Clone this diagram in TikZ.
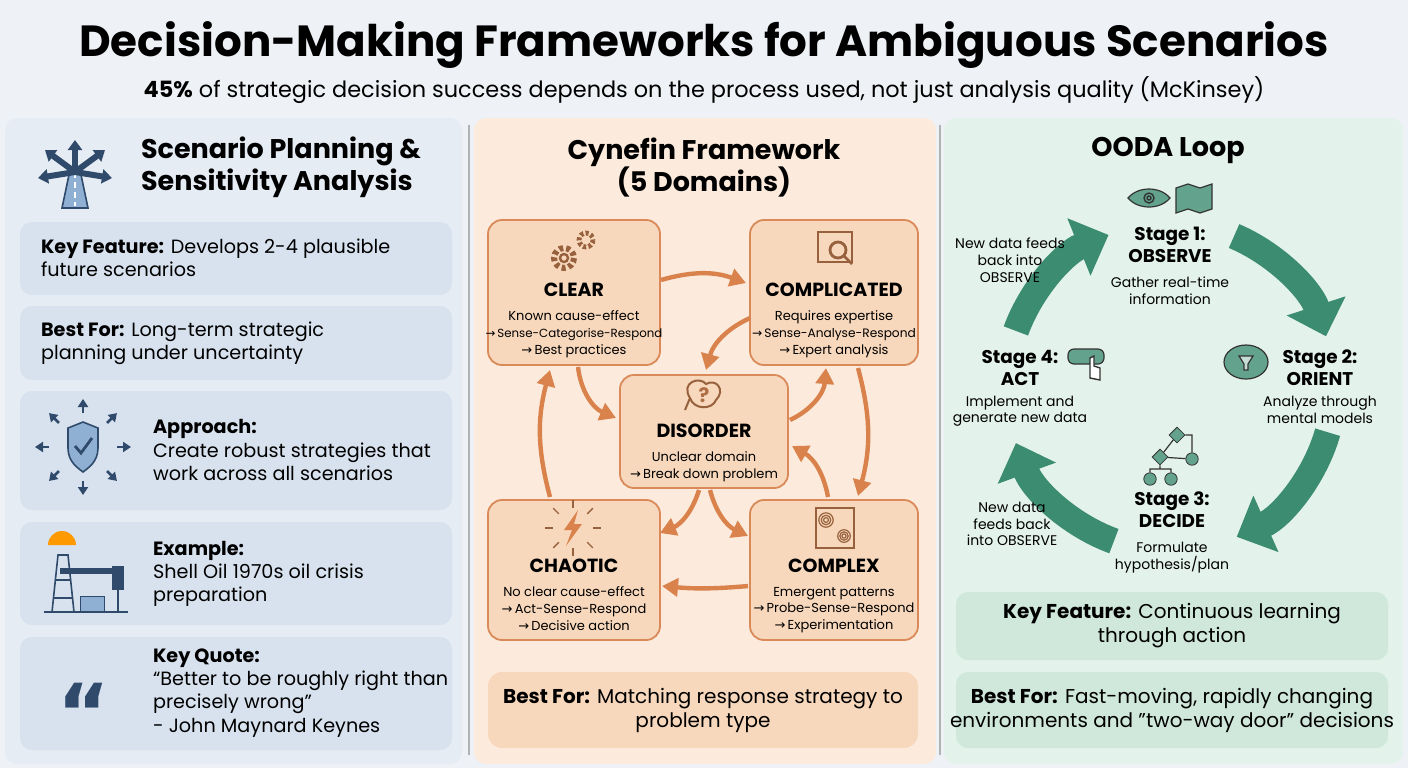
\documentclass[tikz,border=0pt]{standalone}
\usepackage{fontspec}
\setmainfont{Poppins}
\newfontfamily\symfont{DejaVu Sans}
\usetikzlibrary{positioning,arrows.meta,calc,shapes.geometric}
\definecolor{bgc}{HTML}{EEF1F5}
\definecolor{leftp}{HTML}{E5ECF4}
\definecolor{leftc}{HTML}{D8E2EE}
\definecolor{midp}{HTML}{FCEBDC}
\definecolor{domf}{HTML}{F8D8BC}
\definecolor{doml}{HTML}{D98A58}
\definecolor{orar}{HTML}{D9824C}
\definecolor{rightp}{HTML}{E3F2EB}
\definecolor{rightc}{HTML}{D0E8DC}
\definecolor{grn}{HTML}{3C8C72}
\definecolor{iconb}{HTML}{2F4A6B}
\definecolor{iconf}{HTML}{8FB0D3}
\newcommand{\ar}{{\symfont→}}
\tikzset{
  panel/.style={rounded corners=6pt, draw=none},
  card/.style={rounded corners=6pt, fill=leftc},
  gcard/.style={rounded corners=6pt, fill=rightc},
  dom/.style={rounded corners=7pt, draw=doml, line width=0.9pt, fill=domf},
  cyar/.style={draw=orar, line width=2.2pt, -{Triangle[length=8pt,width=9pt]}},
  ooda/.style={draw=grn, line width=13pt, -{Triangle[length=16pt,width=30pt]}},
  hd/.style={font=\bfseries\fontsize{13.5}{16}\selectfont, align=center},
  dt/.style={font=\bfseries\fontsize{9.5}{11}\selectfont},
  ds/.style={font=\fontsize{6.5}{8.4}\selectfont, align=center},
  body/.style={font=\fontsize{9.6}{11.6}\selectfont, align=left, anchor=west},
  st/.style={font=\bfseries\fontsize{9.2}{11}\selectfont, align=center},
  ss/.style={font=\fontsize{7}{8.4}\selectfont, align=center},
  ic/.style={draw=iconb, line width=0.8pt, fill=iconf},
  oi/.style={draw=doml!70!black, line width=0.7pt},
  gi/.style={draw=black!80, line width=0.6pt, fill=grn!80},
}
\begin{document}
\begin{tikzpicture}[x=0.5pt,y=-0.5pt]
\useasboundingbox (0,0) rectangle (1408,768);
\fill[bgc] (0,0) rectangle (1408,768);
% title
\node[font=\bfseries\fontsize{21.8}{24}\selectfont] (title) at (704,45) {Decision-Making Frameworks for Ambiguous Scenarios};
\node[font=\fontsize{11.2}{13}\selectfont] (sub) at (704,90) {\textbf{45\%} of strategic decision success depends on the process used, not just analysis quality (McKinsey)};
% panels
\fill[panel,leftp] (5,118) rectangle (462,764);
\fill[panel,midp] (474,118) rectangle (936,764);
\fill[panel,rightp] (944,118) rectangle (1403,764);
\draw[black!30, line width=0.8pt] (469,125) -- (469,755);
\draw[black!30, line width=0.8pt] (940,125) -- (940,755);

%% left panel
\node[hd, align=left, anchor=west] (lhead) at (134,167) {Scenario Planning \&\\Sensitivity Analysis};
% road icon
\fill[ic] (62,208) -- (70,170) -- (80,170) -- (88,208) -- cycle;
\draw[white, line width=0.8pt, dash pattern=on 3pt off 2pt] (75,172) -- (75,206);
\foreach \tx/\ty in {75/140, 45/150, 105/150, 38/178, 112/178}
  \draw[line width=3pt, -{Triangle[length=5pt,width=7pt]}, draw=iconb] (75,172) -- (\tx,\ty);
\fill[card] (20,222) rectangle (452,295);
\node[body] (kf) at (34,258) {\textbf{Key Feature:} Develops 2-4 plausible\\future scenarios};
\fill[card] (20,306) rectangle (452,380);
\node[body] (bf) at (34,343) {\textbf{Best For:} Long-term strategic\\planning under uncertainty};
\fill[card] (20,391) rectangle (452,510);
\node[body] (ap) at (146,450) {\textbf{Approach:}\\Create robust strategies that\\work across all scenarios};
\filldraw[ic] (68,428) -- (83,422) -- (98,428) -- (98,448) .. controls (98,462) and (88,468) .. (83,472) .. controls (78,468) and (68,462) .. (68,448) -- cycle;
\draw[iconb, line width=1.4pt] (75,446) -- (81,453) -- (92,438);
\foreach \a in {0,45,...,315}
  \draw[iconb, line width=1.4pt, -{Triangle[length=4pt,width=5pt]}] ($(83,447)+(\a:17pt)$) -- ($(83,447)+(\a:24pt)$);
\fill[card] (20,522) rectangle (452,625);
\node[body] (ex) at (146,574) {\textbf{Example:}\\Shell Oil 1970s oil crisis\\preparation};
\fill[orange!80!yellow] (48,545) arc[start angle=180,end angle=0,radius=7pt] -- cycle;
\draw[ic, fill=none] (52,612) -- (58,555) -- (68,555) -- (74,612);
\draw[ic, fill=none] (53,598) -- (73,598) (55,580) -- (71,580);
\fill[iconb] (60,568) rectangle (118,574);
\fill[iconb] (112,566) rectangle (124,590);
\draw[iconb, line width=1.2pt] (118,590) -- (118,612);
\fill[iconf] (80,596) rectangle (104,612);
\draw[iconb] (80,596) rectangle (104,612);
\draw[iconb, line width=1pt] (44,612) -- (128,612);
\fill[card] (20,637) rectangle (452,750);
\node[font=\symfont\bfseries\fontsize{40}{40}\selectfont, text=iconb] (quote) at (84,712) {“};
\node[body] (kq) at (146,693) {\textbf{Key Quote:}\\“Better to be roughly right than\\precisely wrong”\\- John Maynard Keynes};

%% middle panel
\node[hd] (mhead) at (704,167) {Cynefin Framework\\(5 Domains)};
\draw[dom] (488,220) rectangle (660,365);
\draw[dom] (750,220) rectangle (918,365);
\draw[dom] (620,375) rectangle (788,488);
\draw[dom] (488,500) rectangle (660,640);
\draw[dom] (750,500) rectangle (918,640);
\node[dt] (clt) at (574,290) {CLEAR};
\node[ds, below=0pt of clt] (cls) {Known cause-effect\\{\fontsize{5.9}{8.4}\selectfont\ar\,Sense-Categorise-Respond}\\\ar\,Best practices};
\node[dt] (cot) at (834,290) {COMPLICATED};
\node[ds, below=0pt of cot] (cos) {Requires expertise\\{\fontsize{6.1}{8.4}\selectfont\ar\,Sense-Analyse-Respond}\\\ar\,Expert analysis};
\node[dt] (dit) at (704,431) {DISORDER};
\node[ds, below=0pt of dit] (dis) {Unclear domain\\\ar\,Break down problem};
\node[dt] (cht) at (574,566) {CHAOTIC};
\node[ds, below=0pt of cht] (chs) {No clear cause-effect\\\ar\,Act-Sense-Respond\\\ar\,Decisive action};
\node[dt] (cxt) at (834,566) {COMPLEX};
\node[ds, below=0pt of cxt] (cxs) {Emergent patterns\\\ar\,Probe-Sense-Respond\\\ar\,Experimentation};
% domain icons
\draw[oi, line width=3pt, dash pattern=on 2pt off 1.5pt] (564,258) circle (10);
\draw[oi, line width=1.2pt] (564,258) circle (4);
\draw[oi, line width=2.4pt, dash pattern=on 1.5pt off 1.2pt] (586,240) circle (7);
\draw[oi, line width=1pt] (818,232) rectangle (852,262);
\draw[oi, line width=1.4pt] (838,250) circle (8) (844,256) -- (852,264);
\draw[oi, line width=1pt] (690,398) .. controls (680,382) and (700,376) .. (706,384) .. controls (716,378) and (726,390) .. (716,400) .. controls (712,410) and (694,410) .. (690,398) -- (685,410);
\node[font=\bfseries\fontsize{10}{10}\selectfont, text=doml!80!black] (qm) at (704,395) {?};
\fill[orar] (578,510) -- (564,530) -- (572,530) -- (566,546) -- (582,524) -- (574,524) -- cycle;
\foreach \a in {0,45,...,315}
  \draw[oi] ($(573,528)+(\a:10pt)$) -- ($(573,528)+(\a:14pt)$);
\foreach \r in {3,6,9}
  {\draw[oi, line width=0.6pt] (826,520) circle (\r*0.8); \draw[oi, line width=0.6pt] (844,536) circle (\r*0.7);}
\draw[oi, line width=0.6pt] (816,508) rectangle (854,548);
% domain arrows
\draw[cyar] (661,280) to[bend left=18] (746,283);
\draw[cyar] (750,318) to[bend right=25] (706,370);
\draw[cyar] (578,367) to[bend right=30] (616,418);
\draw[cyar] (790,420) to[bend right=30] (826,368);
\draw[cyar] (858,368) to[bend left=15] (858,496);
\draw[cyar] (828,497) to[bend right=25] (792,446);
\draw[cyar] (699,490) to[bend left=25] (660,533);
\draw[cyar] (710,490) to[bend right=25] (748,536);
\draw[cyar] (748,586) to[bend left=5] (662,586);
\draw[cyar] (550,497) to[bend left=15] (550,370);
\fill[rounded corners=7pt, fill=domf] (488,672) rectangle (918,748);
\node[font=\fontsize{10}{12}\selectfont, align=center] (cbf) at (703,710) {\textbf{Best For:} Matching response strategy to\\problem type};

%% right panel
\node[hd] (rhead) at (1168,150) {OODA Loop};
\coordinate (oc) at (1170,387);
\draw[ooda] ($(oc)+(67:82pt)$) arc[start angle=67, end angle=18, radius=82pt];
\draw[ooda] ($(oc)+(-16:82pt)$) arc[start angle=-16, end angle=-66, radius=82pt];
\draw[ooda] ($(oc)+(-110:82pt)$) arc[start angle=-110, end angle=-160, radius=82pt];
\draw[ooda] ($(oc)+(160:82pt)$) arc[start angle=160, end angle=112, radius=82pt];
\node[st] (s1) at (1170,245) {Stage 1:\\OBSERVE};
\node[ss, below=0pt of s1] (s1d) {Gather real-time\\information};
\node[st] (s2) at (1320,368) {Stage 2:\\ORIENT};
\node[ss, below=-2pt of s2] (s2d) {Analyze through\\mental models};
\node[st] (s3) at (1172,510) {Stage 3:\\DECIDE};
\node[ss, below=0pt of s3] (s3d) {Formulate\\hypothesis/plan};
\node[st] (s4) at (1020,368) {Stage 4:\\ACT};
\node[ss, below=-2pt of s4] (s4d) {Implement and\\generate new data};
\node[ss] (fb1) at (1010,260) {New data feeds\\back into\\OBSERVE};
\node[ss] (fb2) at (1012,524) {New data\\feeds back\\into OBSERVE};
% stage icons
\filldraw[gi] (1128,198) .. controls (1138,186) and (1160,186) .. (1170,198) .. controls (1160,210) and (1138,210) .. (1128,198) -- cycle;
\draw[black!80, line width=0.7pt] (1149,198) circle (5) (1149,198) circle (2);
\filldraw[gi] (1176,188) -- (1188,184) -- (1200,188) -- (1212,184) -- (1212,209) -- (1200,213) -- (1188,209) -- (1176,213) -- cycle;
\filldraw[gi] (1246,362) ellipse (22 and 17);
\draw[black!80, line width=0.6pt, fill=white!70!grn] (1239,356) -- (1253,356) -- (1248,364) -- (1248,370) -- (1244,370) -- (1244,364) -- cycle;
\filldraw[gi, rounded corners=3pt] (1068,349) rectangle (1104,364);
\draw[black!80, line width=0.7pt, fill=white] (1090,358) -- (1090,378) -- (1100,380) -- (1100,368) -- (1094,366) -- (1094,356) -- cycle;
\node[diamond, draw=black!80, fill=grn!80, inner sep=2pt] (fd1) at (1177,435) {};
\node[diamond, draw=black!80, fill=grn!80, inner sep=2pt] (fd2) at (1160,457) {};
\node[circle, draw=black!80, fill=grn!80, inner sep=2.2pt] (fc1) at (1192,459) {};
\node[circle, draw=black!80, fill=grn!80, inner sep=2.2pt] (fc2) at (1150,479) {};
\node[circle, draw=black!80, fill=grn!80, inner sep=2.2pt] (fc3) at (1171,479) {};
\draw[black!80, line width=0.6pt] (fd1) -- (fd2) (fd1) -| (fc1) (fd2) -- (fc1) (fd2) -- ++(0,12) -| (fc2) (fd2) ++(0,12) -| (fc3);
\fill[gcard] (956,592) rectangle (1388,660);
\node[font=\fontsize{10}{12}\selectfont, align=center] (gkf) at (1172,626) {\textbf{Key Feature:} Continuous learning\\through action};
\fill[gcard] (956,672) rectangle (1388,748);
\node[font=\fontsize{10}{12}\selectfont, align=center] (gbf) at (1172,710) {\textbf{Best For:} Fast-moving, rapidly changing\\environments and \char"0022two-way door\char"0022\ decisions};
\end{tikzpicture}
\end{document}
